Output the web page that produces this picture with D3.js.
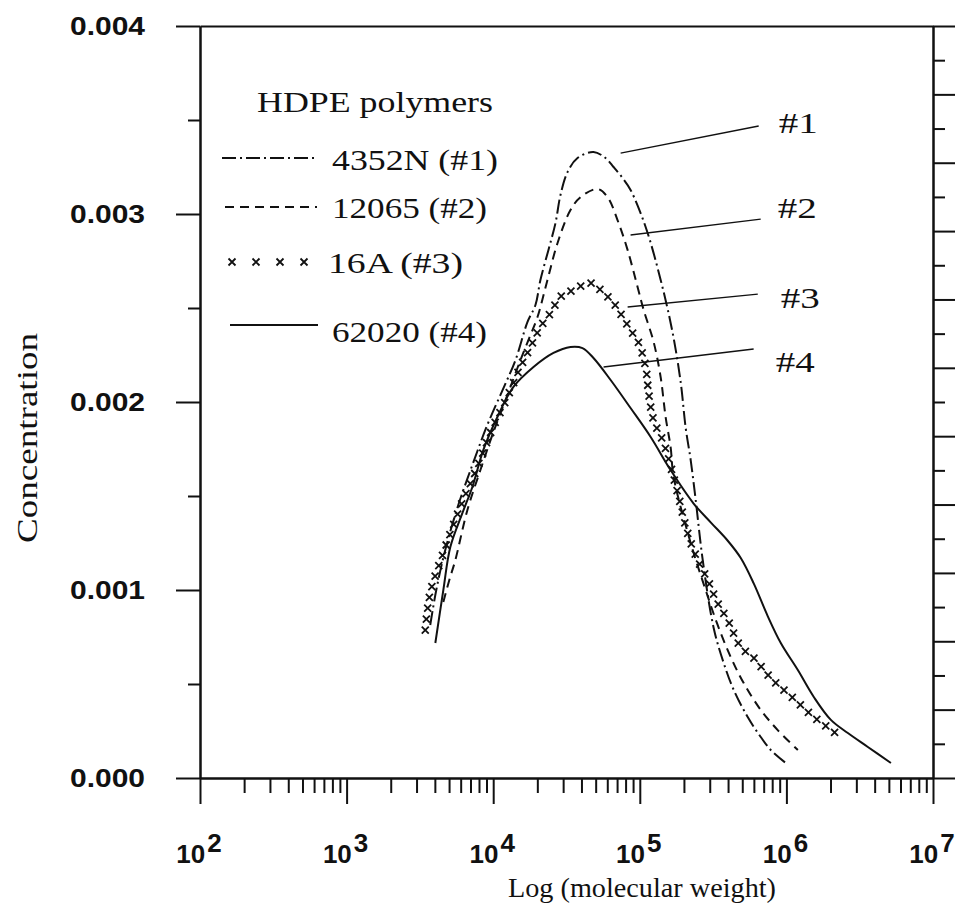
<!DOCTYPE html>
<html lang="en">
<head>
<meta charset="UTF-8">
<title>HDPE molecular weight distribution</title>
<script src="https://cdn.jsdelivr.net/npm/d3@7"></script>
<style>
  html, body { margin: 0; background: #fff; overflow: hidden; }
</style>
</head>
<body>
<svg id="svg"></svg>
<script>
// ---- data ----
const yMajor = [0, 0.001, 0.002, 0.003, 0.004];
const yMinor = [0.0005, 0.0015, 0.0025, 0.0035];
const xDecades = [1e2, 1e3, 1e4, 1e5, 1e6, 1e7];
const xExponents = ['2', '3', '4', '5', '6', '7'];

const legendTitle = 'HDPE polymers';
const seriesNames = ['4352N (#1)', '12065 (#2)', '16A (#3)', '62020 (#4)'];
const tags = ['#1', '#2', '#3', '#4'];

// molecular weight, concentration (x 1e-3)
const mw1 = [3720, 4090, 4710, 5780, 7210, 9120, 11750, 14190, 17140, 19420, 20990, 23820, 26600, 28770, 32140, 37590, 48310, 58340, 66210, 76360, 86500, 109600, 138800, 167600, 190000, 205600, 222400, 240600, 268600, 319100, 373300, 437500, 544500, 668300, 782100, 990000];
const c1 = [0.814, 1.000, 1.213, 1.452, 1.665, 1.878, 2.074, 2.223, 2.426, 2.516, 2.649, 2.809, 2.952, 3.101, 3.223, 3.298, 3.330, 3.298, 3.250, 3.191, 3.128, 2.931, 2.649, 2.367, 2.106, 1.862, 1.691, 1.479, 1.160, 0.798, 0.612, 0.468, 0.324, 0.218, 0.149, 0.080];

const mw2 = [4570, 5020, 5520, 6670, 8180, 10030, 12500, 15340, 17950, 20050, 23450, 27480, 33660, 39440, 51520, 60260, 70470, 82530, 96560, 106200, 124200, 138700, 150000, 162200, 170200, 222400, 281200, 339600, 416800, 511400, 668300, 872700, 1197000];
const c2 = [0.936, 1.053, 1.160, 1.426, 1.638, 1.840, 2.037, 2.223, 2.356, 2.452, 2.649, 2.846, 3.021, 3.090, 3.133, 3.090, 2.968, 2.809, 2.612, 2.490, 2.320, 2.133, 1.920, 1.761, 1.601, 1.250, 1.000, 0.814, 0.644, 0.505, 0.362, 0.255, 0.149];

const mw3 = [3440, 3720, 4570, 5970, 7800, 9570, 12500, 15340, 17950, 20990, 24580, 28770, 35300, 46130, 56580, 66210, 76360, 86500, 98200, 109600, 114900, 124200, 145500, 181300, 212000, 248200, 290500, 339600, 398100, 488400, 588800, 807000, 1107000, 1538000, 2109000, 2353000];
const c3 = [0.787, 0.984, 1.197, 1.441, 1.654, 1.835, 2.027, 2.186, 2.293, 2.399, 2.473, 2.559, 2.596, 2.633, 2.580, 2.527, 2.452, 2.383, 2.314, 2.186, 2.048, 1.904, 1.782, 1.516, 1.303, 1.160, 1.053, 0.931, 0.840, 0.697, 0.644, 0.521, 0.426, 0.324, 0.245, 0.213];

const mw4 = [4030, 4570, 5100, 6170, 7210, 8570, 10680, 13740, 18830, 25770, 33660, 40640, 48310, 63240, 86500, 118600, 162200, 232900, 304500, 398100, 488400, 598400, 746800, 915700, 1197000, 1538000, 2011000, 2625000, 3594000, 5164000];
const c4 = [0.718, 1.000, 1.229, 1.410, 1.548, 1.745, 1.920, 2.080, 2.186, 2.261, 2.293, 2.287, 2.234, 2.117, 1.968, 1.814, 1.638, 1.460, 1.360, 1.262, 1.170, 1.035, 0.860, 0.718, 0.574, 0.431, 0.309, 0.239, 0.165, 0.080];

// leader lines: start (on curve) and end, then tag position (mw, conc x 1e-3)
const leadMw0 = [74000, 86500, 82600, 56600];
const leadC0 = [3.324, 2.888, 2.505, 2.186];
const leadMw1 = [647000, 668000, 638000, 598000];
const leadC1 = [3.468, 2.973, 2.574, 2.282];
const tagMw = [887000, 873000, 916000, 847000];
const tagC = [3.431, 2.979, 2.500, 2.160];

// ---- layout ----
const width = 955, height = 911;
const ink = '#111';
const svg = d3.select('#svg').attr('width', width).attr('height', height);

const x = d3.scaleLog().domain([1e2, 1e7]).range([200, 933]);
const y = d3.scaleLinear().domain([0, 0.004]).range([778, 26]);
const yR = d3.scaleLinear().domain([0, 1.1]).range([778, 26]);

const sans = 'Liberation Sans, Arial, sans-serif';
const serif = 'Liberation Serif, Times New Roman, serif';

function styleAxis(g) {
    g.selectAll('path, line').attr('stroke', ink).attr('stroke-width', 2);
    g.selectAll('text').remove();
}

// left axis
svg.append('g').attr('transform', 'translate(200,0)')
    .call(d3.axisLeft(y).tickValues(yMajor).tickSize(24).tickSizeOuter(0))
    .call(styleAxis);
svg.append('g').attr('transform', 'translate(200,0)')
    .call(d3.axisLeft(y).tickValues(yMinor).tickSize(12).tickSizeOuter(0))
    .call(styleAxis);

svg.append('g').selectAll('text').data(yMajor).join('text')
    .attr('x', 145).attr('y', d => y(d) + 9)
    .attr('text-anchor', 'end')
    .attr('font-family', sans).attr('font-weight', 'bold').attr('font-size', 25)
    .attr('textLength', 75).attr('lengthAdjust', 'spacingAndGlyphs')
    .attr('fill', ink)
    .text(d => d3.format('.3f')(d));

// bottom axis
const xMinor = x.ticks().filter(v => !xDecades.includes(v));
svg.append('g').attr('transform', `translate(0,${y(0)})`)
    .call(d3.axisBottom(x).tickValues(xDecades).tickSize(26).tickSizeOuter(0))
    .call(styleAxis);
svg.append('g').attr('transform', `translate(0,${y(0)})`)
    .call(d3.axisBottom(x).tickValues(xMinor).tickSize(15).tickSizeOuter(0))
    .call(styleAxis);

const xl = svg.append('g').selectAll('text').data(xDecades).join('text')
    .attr('x', d => x(d) - 1).attr('y', 863)
    .attr('text-anchor', 'middle')
    .attr('font-family', sans).attr('font-weight', 'bold').attr('font-size', 26)
    .attr('fill', ink);
xl.append('tspan').text('10');
xl.append('tspan').attr('dx', 2).attr('dy', -11).text((d, i) => xExponents[i]);

// top border and right axis
svg.append('g').attr('transform', `translate(0,${y(0.004)})`)
    .call(d3.axisTop(x).tickValues([]).tickSizeOuter(0))
    .call(styleAxis);
const rTicks = yR.ticks(22);
const rLong = rTicks.filter(v => Math.round(v * 20) % 2 === 0);
const rShort = rTicks.filter(v => Math.round(v * 20) % 2 === 1);
svg.append('g').attr('transform', `translate(${x(1e7)},0)`)
    .call(d3.axisRight(yR).tickValues(rLong).tickSize(22).tickSizeOuter(0))
    .call(styleAxis);
svg.append('g').attr('transform', `translate(${x(1e7)},0)`)
    .call(d3.axisRight(yR).tickValues(rShort).tickSize(12).tickSizeOuter(0))
    .call(styleAxis);

// axis titles
svg.append('text')
    .attr('transform', 'translate(37,438) rotate(-90)')
    .attr('text-anchor', 'middle')
    .attr('font-family', serif).attr('font-size', 30)
    .attr('textLength', 210).attr('lengthAdjust', 'spacingAndGlyphs')
    .attr('fill', ink)
    .text('Concentration');
svg.append('text')
    .attr('x', 508).attr('y', 897)
    .attr('font-family', serif).attr('font-size', 27)
    .attr('textLength', 268).attr('lengthAdjust', 'spacingAndGlyphs')
    .attr('fill', ink)
    .text('Log (molecular weight)');

// ---- curves ----
const line = d3.line()
    .x(d => x(d[0])).y(d => y(d[1] * 1e-3))
    .curve(d3.curveCatmullRom.alpha(0.5));

const curves = [
    { mw: mw1, c: c1, dash: '14,4,2,4' },
    { mw: mw2, c: c2, dash: '9,6' },
    { mw: mw3, c: c3, dash: null },
    { mw: mw4, c: c4, dash: null }
];

const plot = svg.append('g');
curves.forEach((s, i) => {
    const pts = s.mw.map((m, j) => [m, s.c[j]]);
    const p = plot.append('path')
        .attr('d', line(pts))
        .attr('fill', 'none')
        .attr('stroke', ink)
        .attr('stroke-width', 2);
    if (s.dash) p.attr('stroke-dasharray', s.dash);
    if (i === 2) {
        // crosses along the path instead of a line
        p.attr('stroke', 'none');
        const node = p.node();
        const len = node.getTotalLength();
        const marks = d3.range(0, len, 11).map(l => node.getPointAtLength(l));
        plot.append('g').selectAll('path').data(marks).join('path')
            .attr('transform', d => `translate(${d.x},${d.y})`)
            .attr('d', 'M-3.5,-3.5L3.5,3.5M-3.5,3.5L3.5,-3.5')
            .attr('stroke', ink).attr('stroke-width', 1.8);
    }
});

// leader lines and tags
const lead = svg.append('g');
tags.forEach((t, i) => {
    lead.append('line')
        .attr('x1', x(leadMw0[i])).attr('y1', y(leadC0[i] * 1e-3))
        .attr('x2', x(leadMw1[i])).attr('y2', y(leadC1[i] * 1e-3))
        .attr('stroke', ink).attr('stroke-width', 1.4);
    lead.append('text')
        .attr('x', x(tagMw[i])).attr('y', y(tagC[i] * 1e-3))
        .attr('font-family', serif).attr('font-size', 30)
        .attr('textLength', 39).attr('lengthAdjust', 'spacingAndGlyphs')
        .attr('fill', ink)
        .text(t);
});

// ---- legend ----
const legend = svg.append('g');
legend.append('text')
    .attr('x', 257).attr('y', 112)
    .attr('font-family', serif).attr('font-size', 30)
    .attr('textLength', 236).attr('lengthAdjust', 'spacingAndGlyphs')
    .attr('fill', ink)
    .text(legendTitle);

const legY = [158, 207, 262, 325];
const legTextY = [170, 218, 273, 342];
const legTextX = [332, 332, 328, 332];
const legTextW = [166, 155, 135, 155];
const legX0 = [222, 225, 232, 230];
const legX1 = [318, 317, 305, 318];

seriesNames.forEach((n, i) => {
    if (i === 2) {
        legend.append('g').selectAll('path').data(d3.range(4)).join('path')
            .attr('transform', k => `translate(${legX0[i] + k * 24},${legY[i]})`)
            .attr('d', 'M-3.5,-3.5L3.5,3.5M-3.5,3.5L3.5,-3.5')
            .attr('stroke', ink).attr('stroke-width', 1.8);
    } else {
        const l = legend.append('line')
            .attr('x1', legX0[i]).attr('x2', legX1[i])
            .attr('y1', legY[i]).attr('y2', legY[i])
            .attr('stroke', ink).attr('stroke-width', 2);
        if (curves[i].dash) l.attr('stroke-dasharray', curves[i].dash);
    }
    legend.append('text')
        .attr('x', legTextX[i]).attr('y', legTextY[i])
        .attr('font-family', serif).attr('font-size', 30)
        .attr('textLength', legTextW[i]).attr('lengthAdjust', 'spacingAndGlyphs')
        .attr('fill', ink)
        .text(n);
});
</script>
</body>
</html>
